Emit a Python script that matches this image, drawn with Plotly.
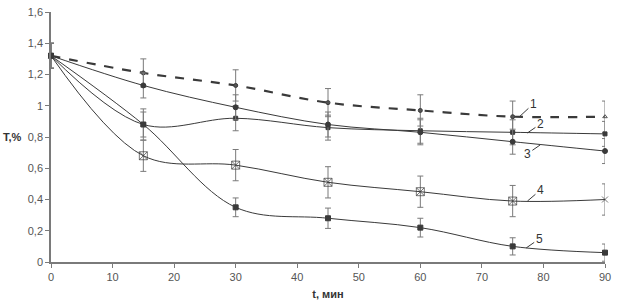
import plotly.graph_objects as go

t_min = [0, 15, 30, 45, 60, 75, 90]
s1 = [1.32, 1.21, 1.13, 1.02, 0.97, 0.93, 0.93]
s2 = [1.32, 0.88, 0.92, 0.86, 0.84, 0.83, 0.82]
s3 = [1.32, 1.13, 0.99, 0.88, 0.83, 0.77, 0.71]
s4 = [1.32, 0.68, 0.62, 0.51, 0.45, 0.39, 0.40]
s5 = [1.32, 0.88, 0.35, 0.28, 0.22, 0.10, 0.06]

e1 = [0.08, 0.09, 0.10, 0.09, 0.10, 0.10, 0.10]
e2 = [0.08, 0.10, 0.08, 0.08, 0.08, 0.08, 0.08]
e3 = [0.08, 0.08, 0.08, 0.08, 0.08, 0.08, 0.08]
e4 = [0.08, 0.10, 0.10, 0.10, 0.10, 0.10, 0.10]
e5 = [0.08, 0.08, 0.06, 0.065, 0.06, 0.055, 0.055]

labels = ["1", "2", "3", "4", "5"]
# point on the curve that each label's leader line touches
label_x = [76.1, 77.4, 79.5, 77.4, 77.2]
label_y = [0.93, 0.826, 0.75, 0.39, 0.09]
# pixel offset of the label text from that point
label_dx = [14, 13, -13, 13, 13]
label_dy = [-13, -9, 9, -11, -9]

LINE = "#3a3a3a"
GRAY = "#7a7a7a"
FONT = "Liberation Sans, Arial"

fig = go.Figure()

def add(y, e, dash, width, symbol, msize, mcolor, mline):
    fig.add_trace(go.Scatter(
        x=t_min, y=y, mode="lines+markers",
        line=dict(color=LINE, width=width, dash=dash, shape="spline", smoothing=1),
        marker=dict(symbol=symbol, size=msize, color=mcolor,
                    line=dict(color=LINE, width=mline)),
        error_y=dict(type="data", array=e, visible=True, color=GRAY,
                     thickness=1, width=3),
        showlegend=False,
        cliponaxis=False,
    ))

n = len(t_min)
add(s1, e1, "dash", 2.2, ["circle"] * (n - 1) + ["triangle-up-open"], 4, "#555555", 1)
add(s2, e2, "solid", 1, "square", 4, LINE, 1)
add(s3, e3, "solid", 1, "circle", 5, LINE, 1)
add(s4, e4, "solid", 1, ["square-x-open"] * (n - 1) + ["x-thin-open"],
    [5] + [8] * (n - 2) + [6], LINE, 1)
add(s5, e5, "solid", 1, "square", 5, LINE, 1)

for lab, lx, ly, dx, dy in zip(labels, label_x, label_y, label_dx, label_dy):
    fig.add_annotation(x=lx, y=ly, text=lab, showarrow=True, arrowhead=0,
                       arrowwidth=1, arrowcolor=LINE, ax=dx, ay=dy, standoff=0,
                       font=dict(size=12, color="#333333", family=FONT),
                       xanchor="center", yanchor="middle")

fig.add_annotation(xref="paper", yref="y", x=0, y=0.8, xshift=-27, text="<b>T,%</b>",
                   showarrow=False, xanchor="right", yanchor="middle",
                   font=dict(size=11, color="#333333", family=FONT))

fig.update_layout(
    width=618, height=307,
    margin=dict(l=51, r=13, t=12, b=45, pad=0),
    paper_bgcolor="white", plot_bgcolor="white",
    separators=", ",
    font=dict(family=FONT, size=11, color="#555555"),
    xaxis=dict(range=[0, 90], tick0=0, dtick=10, showgrid=False, zeroline=False,
               automargin=False,
               showline=True, linecolor=GRAY, linewidth=1.5, ticks="outside",
               ticklen=4, tickcolor=GRAY,
               title=dict(text="<b>t, мин</b>", font=dict(size=11, color="#333333"), standoff=8)),
    yaxis=dict(range=[0, 1.6], tick0=0, dtick=0.2, showgrid=False, zeroline=False,
               automargin=False,
               showline=True, linecolor=GRAY, linewidth=1.5, ticks="outside",
               ticklen=4, tickcolor=GRAY),
)

fig.write_html("out.html", config={"displayModeBar": False},
               post_script="document.body.style.margin='0';document.body.style.overflow='hidden';")
